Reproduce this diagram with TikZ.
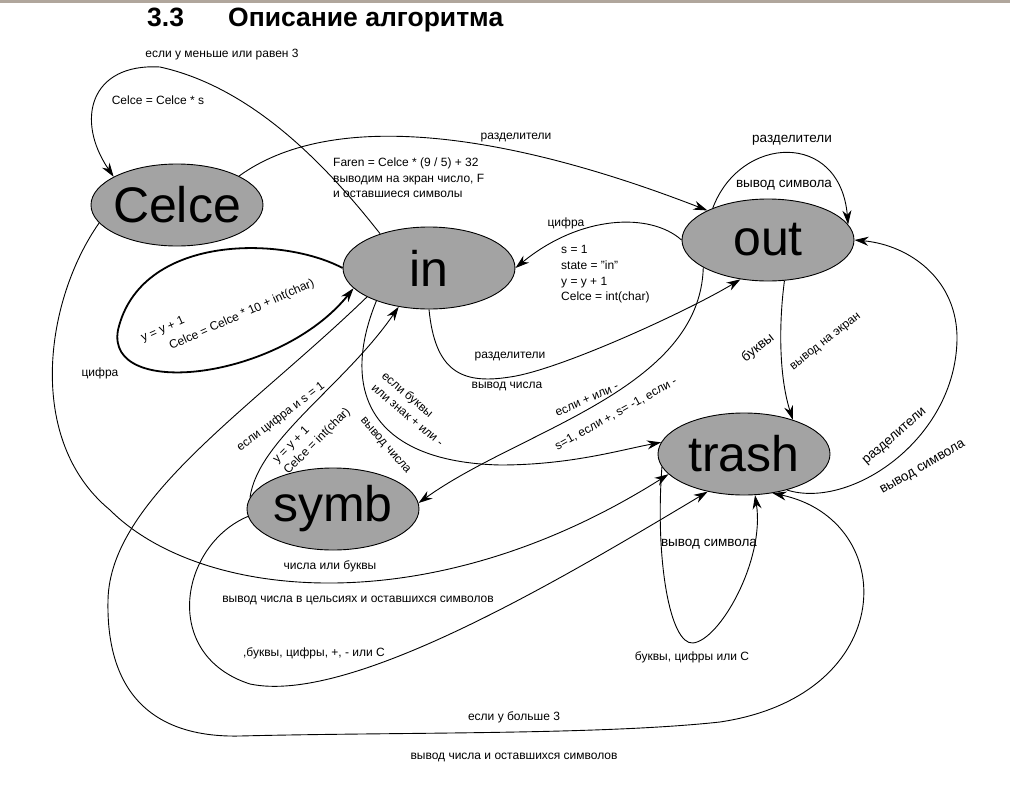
\documentclass[tikz,border=0pt]{standalone}
\usepackage{fontspec}
\setmainfont{Liberation Sans}
\usetikzlibrary{arrows.meta,shapes.geometric}
\definecolor{stategray}{RGB}{163,163,163}
\definecolor{rulegray}{RGB}{176,166,156}

\begin{document}
\begin{tikzpicture}[x=1pt,y=-1pt,
  state/.style={ellipse,draw,fill=stategray,line width=0.9pt,minimum width=172pt,
    minimum height=82pt,inner sep=0pt,font=\fontsize{50}{50}\selectfont},
  lbl/.style={inner sep=0pt,font=\fontsize{12}{15.7}\selectfont},
  lblm/.style={inner sep=0pt,font=\fontsize{13.5}{16}\selectfont},
  edge/.style={line width=0.9pt,-{Stealth[length=14pt,width=9pt,inset=4.5pt]}}]
  \useasboundingbox (0,0) rectangle (1010,792);
  \fill[rulegray] (0,0) rectangle (1010,3);

  % title
  \node[anchor=base west,inner sep=0pt,font=\fontsize{26.5}{26.5}\selectfont\bfseries] (secnum) at (147,27) {3.3};
  \node[anchor=base west,inner sep=0pt,font=\fontsize{26.5}{26.5}\selectfont\bfseries] (sectitle) at (228,27) {Описание алгоритма};

  % states
  \node[state] (Celce) at (177,205) {\makebox[0pt]{Celce}};
  \node[state] (in)    at (429,268) {\makebox[0pt]{in}};
  \node[state] (out)   at (768,240) {\makebox[0pt]{out}};
  \node[state] (trash) at (744,454) {\makebox[0pt]{trash}};
  \node[state] (symb)  at (333,509) {\makebox[0pt]{symb}};

  % transitions
  \draw[edge] (in.145) .. controls (330,170) and (255,88) .. (160,67)
    .. controls (90,63) and (75,120) .. (Celce.156);
  \draw[edge] (Celce.25) .. controls (330,110) and (500,130) .. (out.154);
  \draw[edge] (out.150) .. controls (740,135) and (840,130) .. (out.11);
  \draw[edge] (out.180) .. controls (650,212) and (580,215) .. (in.east);
  \draw[edge,line width=1.8pt] (in.180) .. controls (280,235) and (140,235) .. (118,330)
    .. controls (105,400) and (280,380) .. (in.195);
  \draw[edge] (in.270) .. controls (435,370) and (460,385) .. (510,377)
    .. controls (560,370) and (690,310) .. (out.235);
  \draw[edge] (in.212) .. controls (338,395) and (375,462) .. (500,465)
    .. controls (570,465) and (620,450) .. (trash.172);
  \draw[edge] (symb.172) .. controls (258,440) and (345,385) .. (in.232);
  \draw[edge] (out.203) .. controls (700,390) and (520,430) .. (symb.4);
  \draw[edge] (out.292) .. controls (778,330) and (780,380) .. (trash.35);
  \draw[edge] (trash.320) .. controls (850,510) and (955,440) .. (957,340)
    .. controls (958,280) and (910,245) .. (out.east);
  \draw[edge] (trash.189) .. controls (655,560) and (670,645) .. (693,643)
    .. controls (720,640) and (765,560) .. (trash.285);
  \draw[edge] (Celce.193) .. controls (45,300) and (25,440) .. (110,510)
    .. controls (200,600) and (430,625) .. (trash.195);
  \draw[edge] (symb.185) .. controls (180,545) and (160,655) .. (250,684)
    .. controls (350,705) and (560,580) .. (trash.226);
  \draw[edge] (in.205) .. controls (250,410) and (110,500) .. (108,600)
    .. controls (106,690) and (150,738) .. (240,736)
    .. controls (400,732) and (600,735) .. (720,722)
    .. controls (900,695) and (900,520) .. (trash.306);

  % labels
  \node[lbl] (condless) at (222,55) {если у меньше или равен 3};
  \node[lbl] (actmul) at (158,100) {Celce = Celce * s};
  \node[lbl,anchor=west,align=left] (actfaren) at (333,178)
    {Faren = Celce * (9 / 5) + 32\\выводим на экран число, F\\и оставшиеся символы};
  \node[lbl] (sepA) at (516,138) {разделители};
  \node[lblm] (sepB) at (792,140) {разделители};
  \node[lblm] (outB) at (784,185) {вывод символа};
  \node[lbl] (digA) at (566,223) {цифра};
  \node[lbl,anchor=west,align=left] (actin) at (561,274.5)
    {s = 1\\state = "in"\\y = y + 1\\Celce = int(char)};
  \node[lbl,rotate=24] (incA) at (163,330) {y = y + 1};
  \node[lbl,rotate=24] (incB) at (242,315) {Celce = Celce * 10 + int(char)};
  \node[lbl] (digB) at (100,373) {цифра};
  \node[lbl] (sepC) at (510,357) {разделители};
  \node[lbl] (outC) at (507,386) {вывод числа};
  \node[lbl,rotate=-40,align=left] (condlet) at (413,409) {если буквы\\или знак + или -};
  \node[lbl,rotate=-49] (outD) at (385,446) {вывод числа};
  \node[lbl,rotate=37] (conddig) at (281,417) {если цифра и s = 1};
  \node[lbl,rotate=45,align=left] (actsymb) at (312,436) {y = y + 1\\Celce = int(char)};
  \node[lbl,rotate=24] (condsign) at (587,400) {если + или -};
  \node[lbl,rotate=29] (actsign) at (616,414) {s=1, если +, s= -1, если -};
  \node[lblm,rotate=38] (letA) at (758,348) {буквы};
  \node[lbl,rotate=38] (scrA) at (826,342) {вывод на экран};
  \node[lblm,rotate=41] (sepD) at (895,437) {разделители};
  \node[lblm,rotate=30] (outE) at (923,468) {вывод символа};
  \node[lblm] (outF) at (709,544) {вывод символа};
  \node[lbl] (condtr) at (692,657) {буквы, цифры или C};
  \node[lbl] (condnum) at (330,566) {числа или буквы};
  \node[lbl] (outG) at (358,600) {вывод числа в цельсиях и оставшихся символов};
  \node[lbl] (condsy) at (314,653) {,буквы, цифры, +, - или C};
  \node[lbl] (condmore) at (514,717) {если у больше 3};
  \node[lbl] (outH) at (514,757) {вывод числа и оставшихся символов};
\end{tikzpicture}
\end{document}
